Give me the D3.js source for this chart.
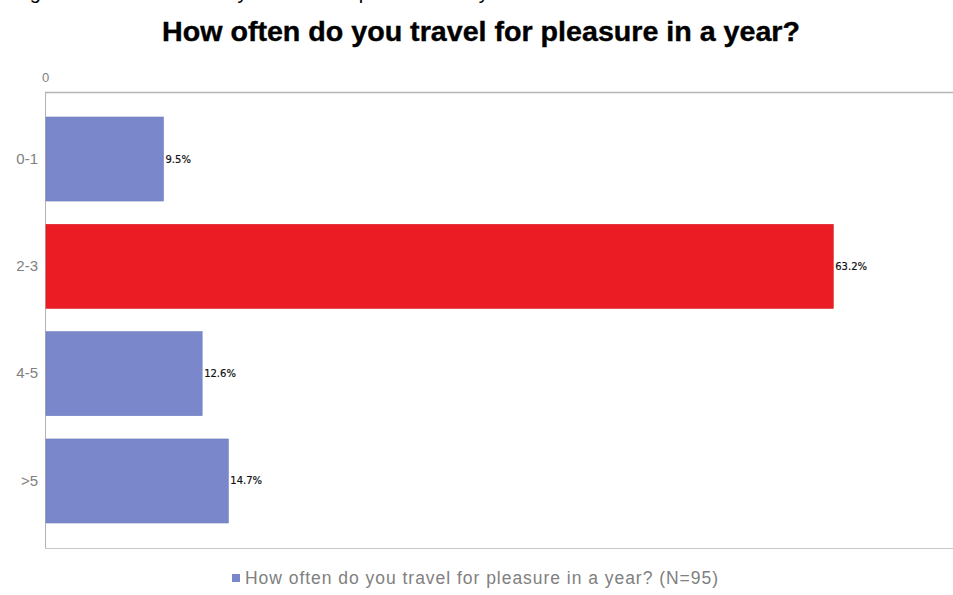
<!DOCTYPE html>
<html>
<head>
<meta charset="utf-8">
<script src="https://cdn.jsdelivr.net/npm/d3@7"></script>
<style>
  html, body { margin: 0; padding: 0; background: #fff; }
  svg { display: block; }
</style>
</head>
<body>
<svg id="chart" width="953" height="595"></svg>
<script>
// Survey answers: share of respondents per travel frequency
const categories = ["0-1", "2-3", "4-5", ">5"];
const percentages = [9.5, 63.2, 12.6, 14.7];
const xTickValues = [0];
const caption = "Figure 4.1: How often do you travel for pleasure in a year";
const title = "How often do you travel for pleasure in a year?";
const legendLabel = "How often do you travel for pleasure in a year? (N=95)";

const svg = d3.select("#chart");
const plot = { left: 45, right: 953, top: 92, bottom: 548 };
const blue = "#7a87cb", red = "#ec1c24";

// caption line above the chart, mostly outside the frame
svg.append("text")
  .attr("x", 13).attr("y", -1)
  .attr("font-family", "Liberation Sans, Arial, sans-serif")
  .attr("font-size", 20)
  .attr("fill", "#000")
  .text(caption);

// heavy, narrow heading
svg.append("text")
  .attr("x", 162).attr("y", 41)
  .attr("font-family", "Liberation Sans, Arial, sans-serif")
  .attr("font-weight", "bold")
  .attr("font-size", 28)
  .attr("textLength", 638)
  .attr("lengthAdjust", "spacingAndGlyphs")
  .attr("fill", "#000")
  .attr("stroke", "#000").attr("stroke-width", 0.4)
  .text(title);

const x = d3.scaleLinear().domain([0, 72.8]).range([plot.left, plot.right]);
const y = d3.scaleBand().domain(categories).range([plot.top, plot.bottom])
  .paddingInner(0.217).paddingOuter(0.233);

// frame lines
svg.append("line").attr("x1", plot.left).attr("x2", plot.right)
  .attr("y1", plot.top + 0.5).attr("y2", plot.top + 0.5)
  .attr("stroke", "#b4b4b4").attr("stroke-width", 1.5);
svg.append("line").attr("x1", plot.left).attr("x2", plot.right)
  .attr("y1", plot.bottom + 0.5).attr("y2", plot.bottom + 0.5)
  .attr("stroke", "#c8c8c8").attr("stroke-width", 1);
svg.append("line").attr("x1", plot.left + 0.5).attr("x2", plot.left + 0.5)
  .attr("y1", plot.top).attr("y2", plot.bottom)
  .attr("stroke", "#b4b4b4").attr("stroke-width", 1);

// top value axis, only the zero tick label
const xAxis = d3.axisTop(x).tickValues(xTickValues).tickSize(0).tickPadding(10);
const gx = svg.append("g").attr("transform", `translate(0,${plot.top})`).call(xAxis);
gx.select(".domain").remove();
gx.selectAll("text")
  .attr("font-family", "Liberation Sans, Arial, sans-serif")
  .attr("font-size", 13).attr("fill", "#808080");

// category axis
const yAxis = d3.axisLeft(y).tickSize(0).tickPadding(7);
const gy = svg.append("g").attr("transform", `translate(${plot.left},0)`).call(yAxis);
gy.select(".domain").remove();
gy.selectAll("text")
  .attr("font-family", "Liberation Sans, Arial, sans-serif")
  .attr("font-size", 15).attr("fill", "#808080");

const rows = categories.map((c, i) => ({ c, v: percentages[i] }));

svg.append("g").selectAll("rect").data(rows).join("rect")
  .attr("x", x(0) + 1)
  .attr("y", d => y(d.c))
  .attr("width", d => x(d.v) - x(0) - 1)
  .attr("height", y.bandwidth())
  .attr("fill", d => d.c === "2-3" ? red : blue)
  .attr("stroke", d => d.c === "2-3" ? "#d81920" : "#6f7cbf")
  .attr("stroke-width", 0.6);

svg.append("g").selectAll("text").data(rows).join("text")
  .attr("x", d => x(d.v) + 2)
  .attr("y", d => y(d.c) + y.bandwidth() / 2)
  .attr("dy", "0.35em")
  .attr("font-family", "DejaVu Sans, sans-serif")
  .attr("font-size", 10)
  .attr("fill", "#111")
  .attr("stroke", "#111").attr("stroke-width", 0.2)
  .text(d => d.v.toFixed(1) + "%");

// legend
const lg = svg.append("g").attr("transform", "translate(232,578)");
lg.append("rect").attr("x", 0).attr("y", -4).attr("width", 8).attr("height", 8).attr("fill", blue);
lg.append("text").attr("x", 13).attr("y", 0).attr("dy", "0.36em")
  .attr("font-family", "Liberation Sans, Arial, sans-serif")
  .attr("font-size", 17.5).attr("fill", "#808080")
  .attr("textLength", 473)
  .attr("lengthAdjust", "spacing")
  .text(legendLabel);
</script>
</body>
</html>
